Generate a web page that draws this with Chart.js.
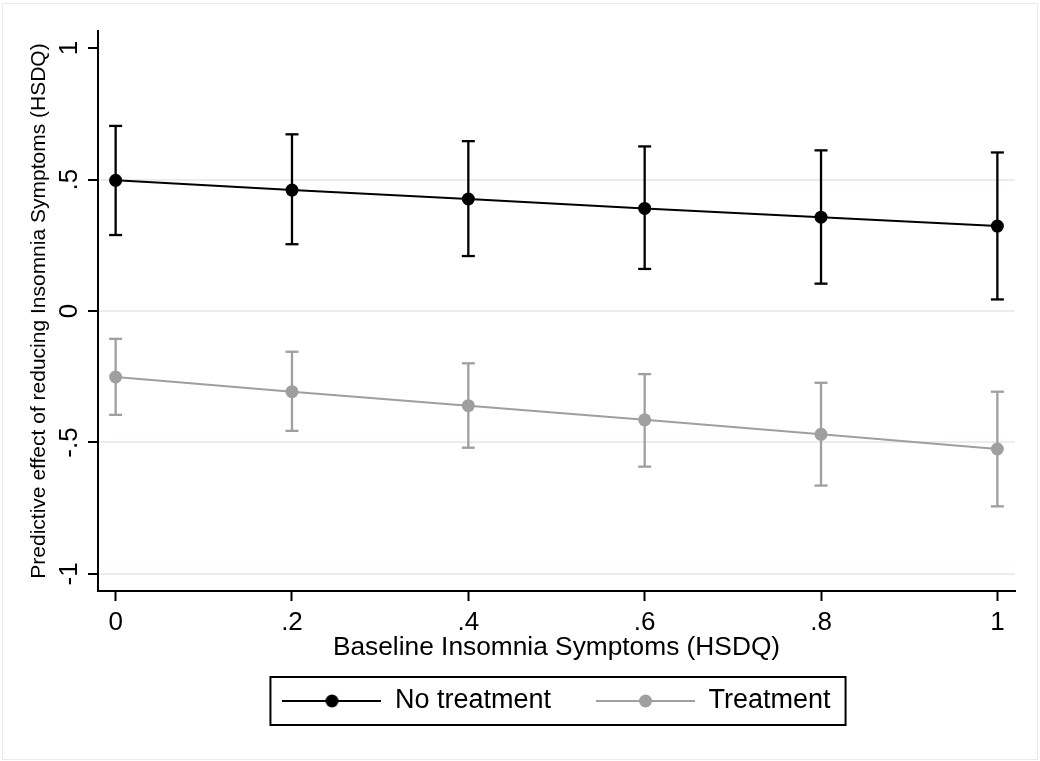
<!DOCTYPE html>
<html>
<head>
<meta charset="utf-8">
<title>Predictive effect of reducing insomnia symptoms</title>
<script src="https://cdn.jsdelivr.net/npm/chart.js@4/dist/chart.umd.min.js"></script>
<style>
    html, body { margin: 0; padding: 0; background: #fff; }
    #wrap { position: relative; width: 1040px; height: 761px; }
    #frame { position: absolute; left: 2px; top: 3px; width: 1034px; height: 755px; border: 1px solid #e6ecee; pointer-events: none; }
    canvas { position: absolute; left: 0; top: 0; }
</style>
</head>
<body>
<div id="wrap">
    <canvas id="grafik" width="1040" height="761"></canvas>
    <div id="frame"></div>
</div>
<script>
// === DATA ===
const xValues = [0, 0.2, 0.4, 0.6, 0.8, 1];
const xTicks = [0, 0.2, 0.4, 0.6, 0.8, 1];
const xTickLabels = ['0', '.2', '.4', '.6', '.8', '1'];
const yTicks = [-1, -0.5, 0, 0.5, 1];
const yTickLabels = ['-1', '-.5', '0', '.5', '1'];

const noTreatment = [0.497, 0.460, 0.426, 0.390, 0.357, 0.323];
const noTreatmentLow = [0.289, 0.254, 0.209, 0.160, 0.104, 0.044];
const noTreatmentHigh = [0.704, 0.672, 0.646, 0.626, 0.611, 0.603];

const treatment = [-0.251, -0.307, -0.360, -0.414, -0.469, -0.525];
const treatmentLow = [-0.395, -0.456, -0.520, -0.592, -0.664, -0.743];
const treatmentHigh = [-0.106, -0.155, -0.199, -0.240, -0.273, -0.307];

const seriesNames = ['No treatment', 'Treatment'];
const BLACK = '#000000';
const GREY = '#9f9f9f';
const FONT = "'Liberation Sans', Arial, sans-serif";

// === HELPERS ===
function toPoints(ys) {
    return xValues.map((x, i) => ({ x: x, y: ys[i] }));
}

// vertical whiskers: low -> high, then a gap
function toWhiskers(lo, hi) {
    const pts = [];
    xValues.forEach((x, i) => {
        pts.push({ x: x, y: lo[i] });
        pts.push({ x: x, y: hi[i] });
        pts.push({ x: x, y: null });
    });
    return pts;
}

// legend symbol: line with a dot in the middle
function legendSymbol(color) {
    const c = document.createElement('canvas');
    c.width = 99; c.height = 16;
    const g = c.getContext('2d');
    g.strokeStyle = color;
    g.lineWidth = 2;
    g.beginPath(); g.moveTo(0, 8); g.lineTo(99, 8); g.stroke();
    g.fillStyle = color;
    g.beginPath(); g.arc(49.5, 8, 6.5, 0, Math.PI * 2); g.fill();
    return c;
}

const lineSeries = (label, ys, color) => ({
    label: label,
    data: toPoints(ys),
    borderColor: color,
    backgroundColor: color,
    borderWidth: 2,
    pointRadius: 6.5,
    pointBorderWidth: 0,
    pointBackgroundColor: color,
    tension: 0,
    order: 0
});

const whiskerSeries = (lo, hi, color) => ({
    label: '_ci',
    data: toWhiskers(lo, hi),
    borderColor: color,
    backgroundColor: color,
    borderWidth: 2.3,
    pointStyle: 'line',
    pointRadius: 6.5,
    pointBorderWidth: 2.3,
    pointBorderColor: color,
    spanGaps: false,
    order: 1
});

// box round the legend
const legendFrame = {
    id: 'legendFrame',
    afterDraw(chart) {
        const boxes = chart.legend.legendHitBoxes;
        if (!boxes || !boxes.length) return;
        let l = Infinity, r = -Infinity, cy = 0;
        boxes.forEach(b => {
            l = Math.min(l, b.left);
            r = Math.max(r, b.left + b.width);
            cy = b.top + b.height / 2;
        });
        const c = chart.ctx;
        c.save();
        c.strokeStyle = BLACK;
        c.lineWidth = 2;
        c.strokeRect(l - 12, cy - 24, (r - l) + 27, 48);
        c.restore();
    }
};

new Chart(document.getElementById('grafik'), {
    type: 'line',
    data: {
        datasets: [
            lineSeries(seriesNames[0], noTreatment, BLACK),
            lineSeries(seriesNames[1], treatment, GREY),
            whiskerSeries(noTreatmentLow, noTreatmentHigh, BLACK),
            whiskerSeries(treatmentLow, treatmentHigh, GREY)
        ]
    },
    options: {
        responsive: false,
        animation: false,
        events: [],
        layout: { padding: { top: 31, right: 25, left: 0, bottom: 36.5 } },
        scales: {
            x: {
                type: 'linear',
                min: -0.02,
                max: 1.02,
                afterBuildTicks: (s) => { s.ticks = xTicks.map(v => ({ value: v })); },
                afterFit: (s) => { s.height = 51.5; },
                border: { display: true, color: BLACK, width: 2 },
                grid: { drawOnChartArea: false, drawTicks: true, tickLength: 10, tickColor: BLACK, tickWidth: 2 },
                ticks: {
                    color: BLACK,
                    padding: 9,
                    maxRotation: 0,
                    font: { family: FONT, size: 26, lineHeight: 1 },
                    callback: (v, i) => xTickLabels[i]
                },
                title: {
                    display: true,
                    text: 'Baseline Insomnia Symptoms (HSDQ)',
                    color: BLACK,
                    font: { family: FONT, size: 26.3, lineHeight: 1 },
                    padding: { top: 0, bottom: -18.5 }
                }
            },
            y: {
                type: 'linear',
                min: -1.065,
                max: 1.065,
                afterBuildTicks: (s) => { s.ticks = yTicks.map(v => ({ value: v })); },
                afterFit: (s) => { s.width = 98; },
                border: { display: true, color: BLACK, width: 2 },
                grid: {
                    color: (c) => (c.tick && c.tick.value === 1) ? 'rgba(0,0,0,0)' : '#e6eef0',
                    lineWidth: 2,
                    tickLength: 10,
                    tickColor: BLACK,
                    tickWidth: 2
                },
                ticks: {
                    color: BLACK,
                    padding: 3,
                    minRotation: 90,
                    maxRotation: 90,
                    crossAlign: 'center',
                    font: { family: FONT, size: 26, lineHeight: 1 },
                    callback: (v, i) => yTickLabels[i]
                },
                title: {
                    display: true,
                    text: 'Predictive effect of reducing Insomnia Symptoms (HSDQ)',
                    color: BLACK,
                    font: { family: FONT, size: 21, lineHeight: 1 },
                    padding: { top: 29, bottom: 0 }
                }
            }
        },
        plugins: {
            tooltip: { enabled: false },
            legend: {
                position: 'bottom',
                fullSize: false,
                labels: {
                    color: BLACK,
                    font: { family: FONT, size: 27 },
                    usePointStyle: true,
                    pointStyleWidth: 99,
                    padding: 45,
                    filter: (item) => item.text !== '_ci',
                    generateLabels: (chart) => chart.data.datasets.map((ds, i) => ({
                        text: ds.label,
                        fontColor: BLACK,
                        pointStyle: legendSymbol(ds.borderColor),
                        strokeStyle: ds.borderColor,
                        fillStyle: ds.borderColor,
                        lineWidth: 0,
                        hidden: false,
                        datasetIndex: i
                    }))
                }
            }
        }
    },
    plugins: [legendFrame]
});
</script>
</body>
</html>
